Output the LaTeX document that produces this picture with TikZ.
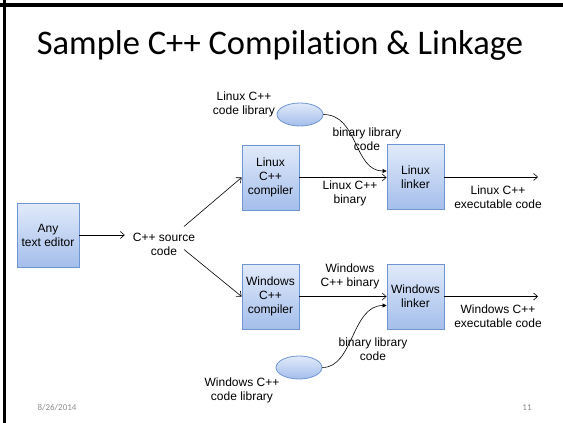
\documentclass[tikz,border=0pt]{standalone}
\usepackage{fontspec}
\setmainfont{Liberation Sans}
\newfontfamily\titlefont[Ligatures=NoCommon]{Carlito}
\usepackage{tikz}
\usetikzlibrary{arrows.meta,shapes,positioning,calc}
\definecolor{boxtop}{HTML}{E1EAFA}
\definecolor{boxbot}{HTML}{A4BEEB}
\definecolor{boxline}{HTML}{6F95D3}
\definecolor{footgray}{HTML}{8C8C8C}
\begin{document}
\begin{tikzpicture}[x=1pt,y=-1pt, %按像素定位
		box/.style={draw=boxline,line width=0.8pt,top color=boxtop,bottom color=boxbot,minimum width=57pt,minimum height=65pt,inner sep=0pt,align=center,font=\fontsize{12}{14}\selectfont},
		lib/.style={ellipse,draw=boxline,line width=0.8pt,top color=boxtop,bottom color=boxbot,minimum width=46pt,minimum height=23pt,inner sep=0pt},
		lbl/.style={align=center,inner sep=0pt,font=\fontsize{12}{14}\selectfont},
		flow/.style={line width=0.6pt,-{Straight Barb[length=4pt,width=7pt]}},
		link/.style={line width=0.6pt,-{Triangle[length=4pt,width=4pt]}}]
		\useasboundingbox (0,0) rectangle (563,423);
		%\draw[help lines,step=20] (0,0) grid (563,423);
		\draw[black][line width=3.5pt] (0,5) -- (563,5);
		\draw[black][line width=3.5pt] (4.5,0) -- (4.5,423);
		\node[font=\titlefont\fontsize{34.5}{40}\selectfont,inner sep=0pt,anchor=base] (title) at (280,54) {Sample C++ Compilation \& Linkage};
		% 方框
		\node[box,minimum width=62pt,minimum height=64pt] (editor) at (48,235) {Any\\text editor};
		\node[lbl] (src) at (164,244.5) {C++ source\\code};
		\node[box] (lcomp) at (270.5,177.5) {Linux\\C++\\compiler};
		\node[box] (llink) at (415.5,177) {Linux\\linker};
		\node[box] (wcomp) at (270.5,296.5) {Windows\\C++\\compiler};
		\node[box] (wlink) at (415.5,296.5) {Windows\\linker};
		\node[lib] (llib) at (300,114.5) {};
		\node[lib] (wlib) at (299,367.5) {};
		\coordinate (lout) at (538,177);
		\coordinate (wout) at (538,296.5);
		% 文字
		\node[lbl] (llibtxt) at (244,104) {Linux C++\\code library};
		\node[lbl] (wlibtxt) at (242,390) {Windows C++\\code library};
		\node[lbl] (lbintxt) at (350,193) {Linux C++\\binary};
		\node[lbl] (wbintxt) at (350,276.5) {Windows\\C++ binary};
		\node[lbl] (lexetxt) at (498,197) {Linux C++\\executable code};
		\node[lbl] (wexetxt) at (498,316.5) {Windows C++\\executable code};
		\node[lbl] (lbltxt) at (367,139) {binary library\\code};
		\node[lbl] (wbltxt) at (373,349.5) {binary library\\code};
		\node[font=\titlefont\fontsize{9}{10}\selectfont,text=footgray] (date) at (57,408) {8/26/2014};
		\node[font=\titlefont\fontsize{9}{10}\selectfont,text=footgray] (page) at (527,408) {11};
		% 箭头
		\draw[flow,shorten >=8pt] (editor.east) -- (editor.east -| src.west);
		\draw[flow] ($(src.center)+(20,-18)$) -- (lcomp.west);
		\draw[flow] ($(src.center)+(20,5)$) -- (wcomp.west);
		\draw[flow] (lcomp.east) -- (lcomp.east -| llink.west);
		\draw[flow] (wcomp.east) -- (wcomp.east -| wlink.west);
		\draw[flow] (llink.east) -- (lout);
		\draw[flow] (wlink.east) -- (wout);
		\draw[link] (llib.east) .. controls +(35,0) and +(-33,0) .. ($(llink.west)+(0,-6)$);
		\draw[link] (wlib.east) .. controls +(31,0) and +(-35,0) .. ($(wlink.west)+(0,9)$);
	\end{tikzpicture}
\end{document}
